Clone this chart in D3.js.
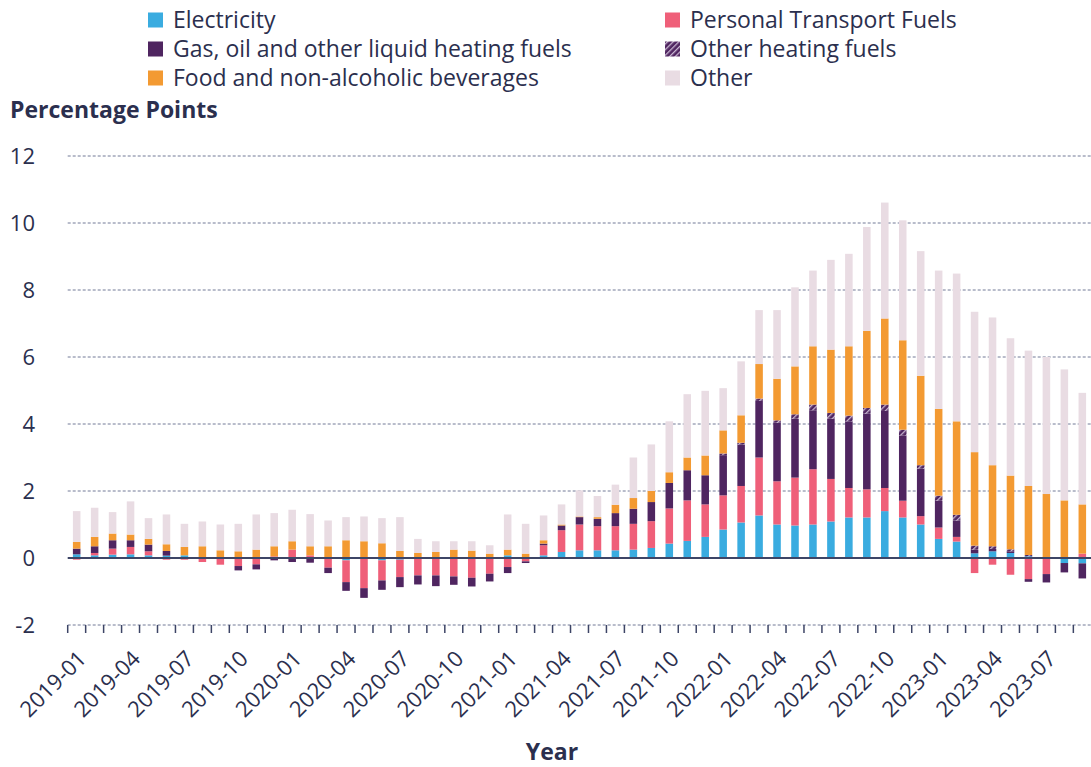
<!DOCTYPE html>
<html>
<head>
<meta charset="utf-8">
<script src="https://cdn.jsdelivr.net/npm/d3@7"></script>
<style>
  body { margin: 0; background: #fff; }
  svg text { font-family: "Open Sans", "Noto Sans", sans-serif; fill: #2b2f4e; }
</style>
</head>
<body>
<svg id="chart" width="1091" height="767"></svg>
<script>
// monthly contributions, percentage points
const months = [
  "2019-01","2019-02","2019-03","2019-04","2019-05","2019-06","2019-07","2019-08","2019-09","2019-10","2019-11","2019-12",
  "2020-01","2020-02","2020-03","2020-04","2020-05","2020-06","2020-07","2020-08","2020-09","2020-10","2020-11","2020-12",
  "2021-01","2021-02","2021-03","2021-04","2021-05","2021-06","2021-07","2021-08","2021-09","2021-10","2021-11","2021-12",
  "2022-01","2022-02","2022-03","2022-04","2022-05","2022-06","2022-07","2022-08","2022-09","2022-10","2022-11","2022-12",
  "2023-01","2023-02","2023-03","2023-04","2023-05","2023-06","2023-07","2023-08","2023-09"
];
const tickLabels = ["2019-01","2019-04","2019-07","2019-10","2020-01","2020-04","2020-07","2020-10",
  "2021-01","2021-04","2021-07","2021-10","2022-01","2022-04","2022-07","2022-10","2023-01","2023-04","2023-07"];

const electricity = [0.11,0.08,0.10,0.11,0.08,0.07,0.08,0.03,0,0,0,0,
  0,0,0,-0.07,-0.03,-0.07,-0.05,0,0,0,0,0,
  0.08,0,0.08,0.18,0.23,0.23,0.23,0.25,0.30,0.43,0.51,0.63,
  0.85,1.06,1.27,1.00,0.97,1.00,1.09,1.21,1.21,1.40,1.21,1.00,
  0.57,0.49,0.14,0.20,0.15,0.05,0,-0.15,-0.16];
const transport = [-0.05,0.07,0.18,0.22,0.12,-0.05,-0.05,-0.12,-0.20,-0.24,-0.19,0.05,
  0.25,0.08,-0.29,-0.65,-0.87,-0.60,-0.52,-0.52,-0.52,-0.55,-0.59,-0.47,
  -0.27,-0.10,0.30,0.65,0.77,0.72,0.72,0.77,0.80,1.05,1.21,0.97,
  1.02,1.09,1.73,1.29,1.43,1.65,1.27,0.88,0.84,0.69,0.50,0.25,
  0.34,0.14,-0.45,-0.20,-0.50,-0.63,-0.48,0,0.13];
const gas = [0.17,0.20,0.25,0.20,0.20,0.14,0,0,0.02,-0.13,-0.15,-0.07,
  -0.12,-0.14,-0.16,-0.26,-0.29,-0.28,-0.30,-0.27,-0.32,-0.25,-0.26,-0.23,
  -0.18,-0.05,0.05,0.14,0.22,0.22,0.39,0.45,0.57,0.76,0.90,0.87,
  1.20,1.24,1.69,1.75,1.76,1.76,1.80,1.99,2.26,2.30,1.95,1.42,
  0.80,0.49,0.11,0.07,0.05,-0.08,-0.25,-0.28,-0.45];
const otherHeating = [0,0,0,0,0,0,0,0,0,0,0,0,
  0,0,0,0,0,0,0,0,0,0,0,0,
  0,0,0,0,0,0,0,0,0,0,0,0,
  0.05,0.05,0.07,0.07,0.13,0.17,0.17,0.17,0.17,0.19,0.17,0.10,
  0.15,0.17,0.12,0.08,0.06,0.04,0.02,0,0];
const food = [0.20,0.28,0.20,0.17,0.17,0.20,0.25,0.32,0.21,0.20,0.25,0.30,
  0.25,0.27,0.35,0.53,0.50,0.44,0.21,0.15,0.18,0.25,0.22,0.13,
  0.17,0.13,0.10,0.03,0.02,0.05,0.25,0.32,0.33,0.32,0.38,0.59,
  0.69,0.82,1.03,1.24,1.43,1.74,1.89,2.07,2.30,2.57,2.67,2.67,
  2.59,2.79,2.79,2.42,2.20,2.06,1.89,1.72,1.47];
const other = [0.92,0.87,0.64,0.99,0.62,0.89,0.69,0.74,0.77,0.82,1.05,0.99,
  0.94,0.96,0.77,0.69,0.74,0.75,1.01,0.42,0.32,0.25,0.28,0.25,
  1.05,0.89,0.74,0.60,0.78,0.63,0.60,1.21,1.39,1.52,1.89,1.93,
  1.26,1.61,1.61,2.05,2.36,2.26,2.68,2.76,3.10,3.46,3.58,3.72,
  4.13,4.41,4.19,4.41,4.10,4.04,4.09,3.91,3.33];

const series = [
  {key: "Electricity", values: electricity, color: "#3aace0"},
  {key: "Personal Transport Fuels", values: transport, color: "#ef5f79"},
  {key: "Gas, oil and other liquid heating fuels", values: gas, color: "#4f2560"},
  {key: "Other heating fuels", values: otherHeating, color: "url(#hatch)"},
  {key: "Food and non-alcoholic beverages", values: food, color: "#f39a32"},
  {key: "Other", values: other, color: "#e9dce3"}
];

const rows = months.map((m, i) => {
  const r = {month: m};
  series.forEach(s => { r[s.key] = s.values[i]; });
  return r;
});

const svg = d3.select("#chart");

// hatch for other heating fuels
const pat = svg.append("defs").append("pattern")
    .attr("id", "hatch")
    .attr("patternUnits", "userSpaceOnUse")
    .attr("width", 4)
    .attr("height", 4)
    .attr("patternTransform", "rotate(45)");
pat.append("rect").attr("width", 4).attr("height", 4).attr("fill", "#4f2560");
pat.append("rect").attr("width", 1.3).attr("height", 4).attr("fill", "#c9b6d2");

const left = 67.7, right = 1091.3;
const x = d3.scaleBand()
    .domain(months)
    .range([left, right])
    .paddingInner(0.58)
    .paddingOuter(0.29);
const y = d3.scaleLinear().domain([-2, 12]).range([625, 156]);

const stack = d3.stack()
    .keys(series.map(s => s.key))
    .offset(d3.stackOffsetDiverging);
const stacked = stack(rows);

// grid
const yTicks = [-2, 0, 2, 4, 6, 8, 10, 12];
svg.append("g").selectAll("line")
  .data(yTicks.filter(t => t !== 0))
  .join("line")
    .attr("x1", left).attr("x2", 1091)
    .attr("y1", d => y(d)).attr("y2", d => y(d))
    .attr("stroke", "#737a97")
    .attr("stroke-width", 1)
    .attr("stroke-dasharray", "3,2");

svg.append("g").selectAll("text")
  .data(yTicks)
  .join("text")
    .attr("x", 35)
    .attr("y", d => y(d))
    .attr("dy", "0.36em")
    .attr("text-anchor", "end")
    .style("font-size", "22px")
    .text(d => d);

// bars
svg.append("g").selectAll("g")
  .data(stacked)
  .join("g")
    .attr("fill", (d, i) => series[i].color)
  .selectAll("rect")
  .data(d => d)
  .join("rect")
    .attr("x", d => x(d.data.month))
    .attr("width", x.bandwidth())
    .attr("y", d => y(Math.max(d[0], d[1])))
    .attr("height", d => Math.abs(y(d[0]) - y(d[1])));

// zero line
svg.append("line")
    .attr("x1", left).attr("x2", 1091)
    .attr("y1", y(0)).attr("y2", y(0))
    .attr("stroke", "#3d4566")
    .attr("stroke-width", 1.8);

// x ticks at month boundaries
const off = x.step() * x.paddingOuter();
svg.append("g").selectAll("line")
  .data(months)
  .join("line")
    .attr("x1", d => x(d) - off).attr("x2", d => x(d) - off)
    .attr("y1", y(-2)).attr("y2", y(-2) + 8)
    .attr("stroke", "#3d4566")
    .attr("stroke-width", 1.5);

svg.append("g").selectAll("text")
  .data(tickLabels)
  .join("text")
    .attr("transform", d => "translate(" + (x(d) + x.bandwidth() / 2 + 11) + ",660) rotate(-45)")
    .attr("text-anchor", "end")
    .style("font-size", "22px")
    .text(d => d);

// titles
svg.append("text")
    .attr("x", 10).attr("y", 118)
    .style("font-size", "23px")
    .style("font-weight", "bold")
    .text("Percentage Points");

svg.append("text")
    .attr("x", 552).attr("y", 760)
    .attr("text-anchor", "middle")
    .style("font-size", "23px")
    .style("font-weight", "bold")
    .text("Year");

// legend
const legend = svg.append("g").selectAll("g")
  .data(series)
  .join("g")
    .attr("transform", (d, i) => "translate(" + (i % 2 === 0 ? 148 : 665) + "," + (20 + Math.floor(i / 2) * 29) + ")");
legend.append("rect")
    .attr("x", 0).attr("y", -7.5)
    .attr("width", 15).attr("height", 15)
    .attr("fill", d => d.color);
legend.append("text")
    .attr("x", 25).attr("y", 0)
    .attr("dy", "0.35em")
    .style("font-size", "23px")
    .text(d => d.key);
</script>
</body>
</html>
